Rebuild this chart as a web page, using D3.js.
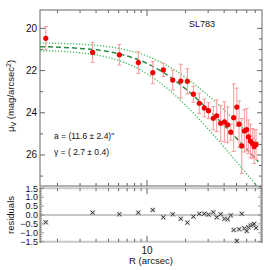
<!DOCTYPE html>
<html lang="en">
  <head>
    <meta charset="utf-8">
    <title>SL783 profile</title>
    <script src="https://cdn.jsdelivr.net/npm/d3@7"></script>
    <style>
      body { margin: 0; background: #fff; }
      text { font-family: 'Liberation Sans', Arial, sans-serif; fill: #111; }
    </style>
  </head>
  <body>
    <div id="chart"></div>
    <script>
      // radius (arcsec), surface brightness, error, residual
      let radius = [1.62, 3.76, 6.08, 8.55, 11.08, 13.41, 15.88, 18.35, 20.66, 23.0,
                    25.6, 28.0, 30.2, 32.9, 35.0, 37.6, 40.2, 42.6, 45.1, 47.5,
                    50.2, 52.3, 54.9, 57.5, 60.0, 61.8, 64.2, 66.5, 68.7, 71.0];
      let mu = [20.47, 21.14, 21.25, 21.62, 22.10, 21.97, 22.45, 22.50, 22.51, 23.12,
                23.55, 23.77, 23.90, 24.26, 24.14, 24.50, 24.43, 24.57, 24.92, 24.23,
                23.73, 24.54, 25.57, 24.86, 24.80, 25.14, 25.34, 25.45, 25.60, 25.50];
      let muErr = [0.55, 0.47, 0.49, 0.51, 0.52, 0.32, 0.47, 0.80, 0.60, 0.38,
                   0.48, 0.42, 0.38, 0.55, 0.75, 0.85, 0.95, 0.85, 0.38, 1.6,
                   0.9, 1.1, 1.3, 1.0, 1.0, 0.8, 0.8, 0.7, 0.8, 0.7];
      let resid = [-0.41, 0.13, 0.04, 0.13, 0.28, -0.13, 0.04, -0.21, -0.43, -0.09,
                   0.07, 0.07, 0.02, 0.15, -0.13, 0.04, -0.21, -0.24, -0.02, -0.84,
                   -1.46, -0.80, 0.07, -0.75, -0.90, -0.69, -0.60, -0.55, -0.50, -0.72];

      // fitted profile and its bounds
      let fitR = [1.46, 2, 3, 5, 7, 10, 15, 20, 30, 40, 50, 60, 70, 74];
      let fitMu = [20.87, 20.89, 20.95, 21.10, 21.31, 21.66, 22.29, 22.87, 23.84, 24.60, 25.21, 25.72, 26.16, 26.32];
      let upperMu = [20.70, 20.71, 20.75, 20.87, 21.03, 21.31, 21.83, 22.33, 23.18, 23.87, 24.43, 24.89, 25.30, 25.44];
      let lowerMu = [21.06, 21.08, 21.16, 21.38, 21.67, 22.15, 22.94, 23.64, 24.77, 25.63, 26.33, 26.90, 27.39, 27.57];

      let xMinor = [2, 3, 4, 5, 6, 7, 8, 9, 20, 30, 40, 50, 60, 70];
      let xMajor = [10];
      let yLabels = [20, 22, 24, 26];
      let resLabels = [1.5, 1.0, 0.5, 0.0, -0.5, -1.0, -1.5];

      let L = 40, Rt = 262, T = 10, B = 186, rT = 187, rB = 243;
      let frame = '#666';

      let svg = d3.select('#chart').append('svg')
        .attr('width', 270).attr('height', 270);

      let x = d3.scaleLog().domain([1.46, 79]).range([L, Rt]);
      let y = d3.scaleLinear().domain([19.13, 27.47]).range([T, B]);
      let yr = d3.scaleLinear().domain([1.57, -1.57]).range([rT, rB]);

      svg.append('clipPath').attr('id', 'clip')
        .append('rect').attr('x', L).attr('y', T).attr('width', Rt - L).attr('height', B - T);

      // residual panel guide lines
      [1.5, 0, -1.5].forEach(v => {
        svg.append('line')
          .attr('x1', L).attr('x2', Rt)
          .attr('y1', yr(v)).attr('y2', yr(v))
          .attr('stroke', '#c8c8c8').attr('stroke-width', 2);
      });

      // main frame
      svg.append('rect')
        .attr('x', L).attr('y', T).attr('width', Rt - L).attr('height', B - T)
        .attr('fill', 'none').attr('stroke', frame).attr('stroke-width', 1);
      svg.append('line').attr('x1', L).attr('x2', L).attr('y1', rT).attr('y2', rB).attr('stroke', frame);
      svg.append('line').attr('x1', Rt).attr('x2', Rt).attr('y1', rT).attr('y2', rB).attr('stroke', frame);

      // x ticks on every horizontal edge
      let edges = [[T, 1], [B, -1], [yr(1.5), 1], [yr(-1.5), -1]];
      edges.forEach(([yy, dir]) => {
        xMinor.concat(xMajor).forEach(v => {
          let len = xMajor.includes(v) ? 6 : 3;
          svg.append('line')
            .attr('x1', x(v)).attr('x2', x(v))
            .attr('y1', yy).attr('y2', yy + dir * len)
            .attr('stroke', frame);
        });
      });

      // y ticks main panel
      d3.range(20, 28, 0.5).forEach(v => {
        let major = v % 2 === 0;
        let whole = v % 1 === 0;
        if (whole) {
          svg.append('line').attr('x1', L).attr('x2', L + (major ? 5 : 3))
            .attr('y1', y(v)).attr('y2', y(v)).attr('stroke', frame);
        }
        svg.append('line').attr('x1', Rt).attr('x2', Rt - (major ? 5 : 3))
          .attr('y1', y(v)).attr('y2', y(v)).attr('stroke', frame);
      });
      svg.selectAll('.ylab').data(yLabels).enter().append('text')
        .attr('x', L - 3).attr('y', d => y(d) + 3.5)
        .attr('text-anchor', 'end').attr('font-size', 10)
        .text(d => d);

      // y ticks residual panel
      d3.range(-15, 16, 1).forEach(k => {
        let v = k / 10;
        let len = k % 5 === 0 ? 4 : 2;
        svg.append('line').attr('x1', L).attr('x2', L + len)
          .attr('y1', yr(v)).attr('y2', yr(v)).attr('stroke', frame).attr('stroke-width', 0.7);
        svg.append('line').attr('x1', Rt).attr('x2', Rt - len)
          .attr('y1', yr(v)).attr('y2', yr(v)).attr('stroke', frame).attr('stroke-width', 0.7);
      });
      svg.selectAll('.rlab').data(resLabels).enter().append('text')
        .attr('x', L - 2).attr('y', d => yr(d) + 3.3)
        .attr('text-anchor', 'end').attr('font-size', 9)
        .text(d => (d < 0 ? '\u2212' : '') + Math.abs(d).toFixed(1));

      // x label
      svg.append('text').attr('x', x(10)).attr('y', 254)
        .attr('text-anchor', 'middle').attr('font-size', 10).text('10');
      svg.append('text').attr('x', 151).attr('y', 264)
        .attr('text-anchor', 'middle').attr('font-size', 9.5).text('R (arcsec)');

      // y labels
      let ylab = svg.append('text')
        .attr('transform', 'translate(14,96) rotate(-90)')
        .attr('text-anchor', 'middle').attr('font-size', 9.5);
      ylab.append('tspan').text('\u03bc');
      ylab.append('tspan').attr('font-size', 7).attr('dy', 2).text('V');
      ylab.append('tspan').attr('dy', -2).text(' (mag/arcsec');
      ylab.append('tspan').attr('font-size', 7).attr('dy', -3).text('2');
      ylab.append('tspan').attr('dy', 3).text(')');

      svg.append('text')
        .attr('transform', 'translate(14,215) rotate(-90)')
        .attr('text-anchor', 'middle').attr('font-size', 9.5).text('residuals');

      // curves
      let g = svg.append('g').attr('clip-path', 'url(#clip)');
      let line = d3.line().x(d => x(d[0])).y(d => y(d[1])).curve(d3.curveMonotoneX);

      g.append('path').datum(fitR.map((r, i) => [r, upperMu[i]]))
        .attr('d', line).attr('fill', 'none')
        .attr('stroke', '#3cba5a').attr('stroke-width', 1.3).attr('stroke-dasharray', '1.2,1.8');
      g.append('path').datum(fitR.map((r, i) => [r, lowerMu[i]]))
        .attr('d', line).attr('fill', 'none')
        .attr('stroke', '#3cba5a').attr('stroke-width', 1.3).attr('stroke-dasharray', '1.2,1.8');
      g.append('path').datum(fitR.map((r, i) => [r, fitMu[i]]))
        .attr('d', line).attr('fill', 'none')
        .attr('stroke', '#2e8b4a').attr('stroke-width', 1.5).attr('stroke-dasharray', '5,3');

      // error bars
      let pts = radius.map((r, i) => ({r: r, m: mu[i], e: muErr[i], res: resid[i]}));
      let eb = g.selectAll('.eb').data(pts).enter().append('g')
        .attr('stroke', '#f59a9a').attr('stroke-width', 1);
      eb.append('line')
        .attr('x1', d => x(d.r)).attr('x2', d => x(d.r))
        .attr('y1', d => y(d.m - d.e)).attr('y2', d => y(d.m + d.e));
      eb.append('line')
        .attr('x1', d => x(d.r) - 2).attr('x2', d => x(d.r) + 2)
        .attr('y1', d => y(d.m - d.e)).attr('y2', d => y(d.m - d.e));
      eb.append('line')
        .attr('x1', d => x(d.r) - 2).attr('x2', d => x(d.r) + 2)
        .attr('y1', d => y(d.m + d.e)).attr('y2', d => y(d.m + d.e));

      g.selectAll('.pt').data(pts).enter().append('circle')
        .attr('cx', d => x(d.r)).attr('cy', d => y(d.m))
        .attr('r', 2.6).attr('fill', '#f00000');

      // residual markers
      let rm = svg.selectAll('.rm').data(pts).enter().append('g');
      rm.append('rect')
        .attr('x', d => x(d.r) - 2.5).attr('y', d => yr(d.res) - 2.5)
        .attr('width', 5).attr('height', 5)
        .attr('fill', '#bbb').attr('fill-opacity', 0.5);
      rm.append('line')
        .attr('stroke', '#333').attr('stroke-width', 1)
        .attr('x1', d => x(d.r) - 2).attr('x2', d => x(d.r) + 2)
        .attr('y1', d => yr(d.res) - 2).attr('y2', d => yr(d.res) + 2);
      rm.append('line')
        .attr('stroke', '#333').attr('stroke-width', 1)
        .attr('x1', d => x(d.r) - 2).attr('x2', d => x(d.r) + 2)
        .attr('y1', d => yr(d.res) + 2).attr('y2', d => yr(d.res) - 2);

      // annotations
      svg.append('text').attr('x', 202).attr('y', 27)
        .attr('text-anchor', 'middle').attr('font-size', 9).text('SL783');
      svg.append('text').attr('x', 54).attr('y', 139)
        .attr('font-size', 8.5).text('a = (11.6 \u00b1 2.4)"');
      svg.append('text').attr('x', 54).attr('y', 155)
        .attr('font-size', 8.5).text('\u03b3 = ( 2.7 \u00b1 0.4)');
    </script>
  </body>
</html>
